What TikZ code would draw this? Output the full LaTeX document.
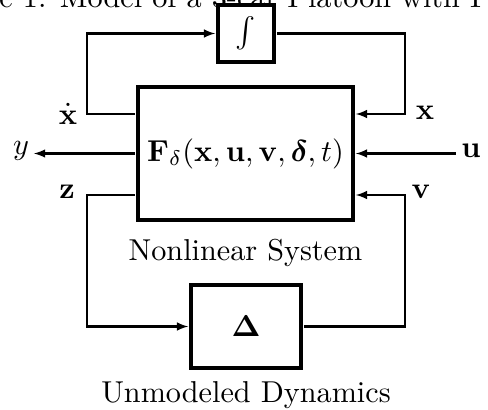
\documentclass[tikz,border=0pt]{standalone}
\usepackage{amsmath, amssymb}
\usepackage{bm}
\usepackage{tikz}
\usetikzlibrary{arrows.meta,calc,positioning}

\begin{document}
\begin{tikzpicture}[x=0.02cm, y=-0.02cm,
        every node/.style={scale=1.72, transform shape},
        block/.style={draw, line width=1.9pt, fill=white, inner sep=0pt},
        conn/.style={line width=1.2pt, -latex}]
        % Page frame
        \useasboundingbox (0,0) rectangle (488,410);
        % Caption of the page above (cut off)
        \begin{scope}
        \clip (0,0) rectangle (488,410);
        \node[anchor=base west, inner sep=0pt] (cap) at (-73,7) {Figure 1: Model of a 3-car Platoon with I};
        \end{scope}
        % Blocks
        \node[block, minimum width=0.651cm, minimum height=0.663cm] (intg) at (246,33.5) {$\int$};
        \node[block, minimum width=2.5cm, minimum height=1.547cm] (sys) at (245.5,153.5) {$\mathbf{F}_\delta(\mathbf{x},\mathbf{u},\mathbf{v},\bm{\delta},t)$};
        \node[block, minimum width=1.279cm, minimum height=0.965cm] (delta) at (246,326.5) {$\mathbf{\Delta}$};
        \node[below=3.1pt of sys] (nls) {Nonlinear System};
        \node[below=0.2pt of delta] (umd) {Unmodeled Dynamics};
        % Corner points of the loops
        \coordinate (xdL) at (87,114);
        \coordinate (xR) at (405,114);
        \coordinate (zL) at (87,195);
        \coordinate (vR) at (405,195);
        \coordinate (yout) at (34,153.5);
        \coordinate (uin) at (456,153.5);
        % Signal labels
        \node (lxd) at (68,114) {$\dot{\mathbf{x}}$};
        \node (lx) at (425,113) {$\mathbf{x}$};
        \node (lz) at (67,192) {$\mathbf{z}$};
        \node (lv) at (421,192) {$\mathbf{v}$};
        \node (ly) at (21,151) {$y$};
        \node (lu) at (471,151) {$\mathbf{u}$};
        % Integrator loop
        \draw[conn] (sys.west |- xdL) -- (xdL) |- (intg.west);
        \draw[conn] (intg.east) -| (xR) -- (sys.east |- xR);
        % Input and output
        \draw[conn] (sys.west) -- (yout);
        \draw[conn] (uin) -- (sys.east);
        % Uncertainty loop
        \draw[conn] (sys.west |- zL) -- (zL) |- (delta.west);
        \draw[conn] (delta.east) -| (vR) -- (sys.east |- vR);
\end{tikzpicture}
\end{document}
